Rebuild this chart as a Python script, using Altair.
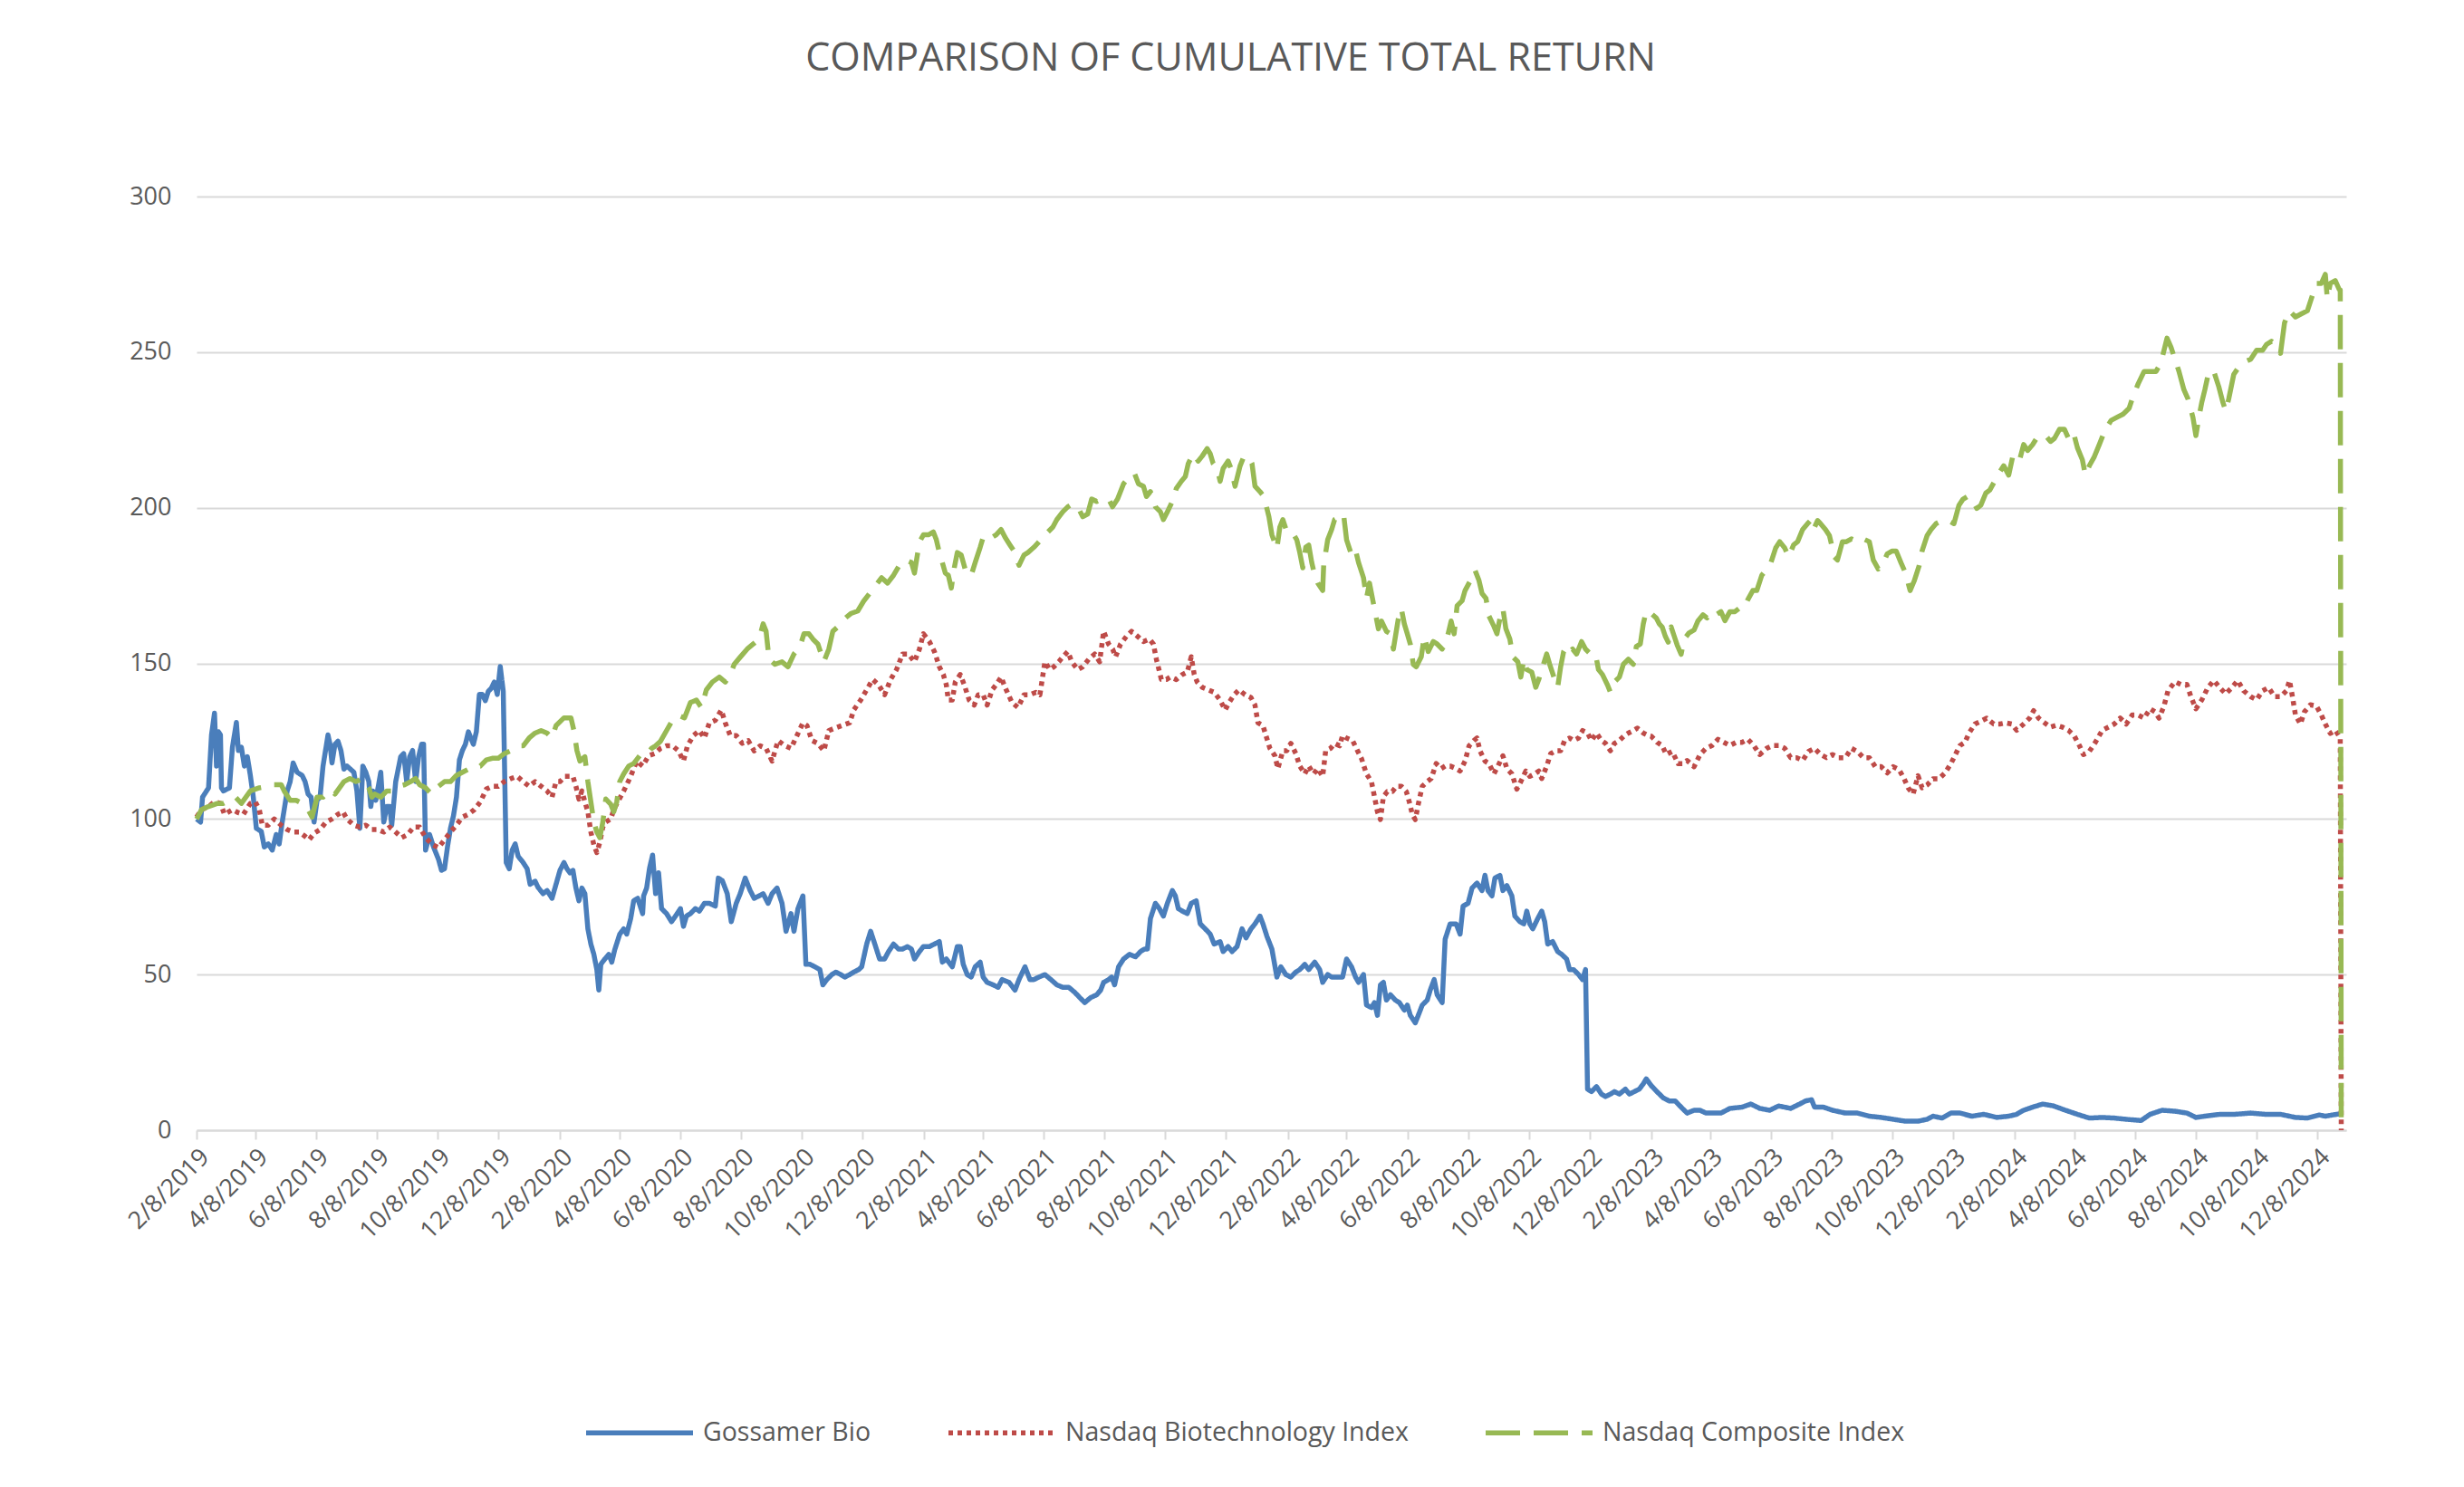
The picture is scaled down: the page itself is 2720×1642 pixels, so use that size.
import altair as alt
import pandas as pd

START = "2019-02-08"  # day 0 of the day offsets below

SERIES = ["Gossamer Bio", "Nasdaq Biotechnology Index", "Nasdaq Composite Index"]
COLORS = ["#4A7EBB", "#BE4B48", "#98B954"]
DASHES = [[1, 0], [5, 5], [38, 15]]

# [days since 2019-02-08, cumulative total return]
gossamer = [
    [0,100],[4,99],[6,107],[12,110],[15,127],[18,134],[20,117],[22,128],[24,127],[25,110],[27,109],[33,110],
    [36,123],[40,131],[42,122],[45,123],[48,117],[51,120],[54,114],[57,107],[60,97],[65,96],[68,91],[72,92],
    [76,90],[80,95],[83,92],[86,99],[91,109],[94,112],[97,118],[101,115],[106,114],[109,112],[112,108],[115,107],
    [118,99],[121,106],[124,107],[127,117],[132,127],[134,124],[136,118],[139,124],[142,125],[145,122],[148,116],
    [151,117],[158,115],[161,109],[164,97],[167,117],[170,115],[173,112],[175,104],[177,109],[180,106],[185,115],
    [188,99],[191,104],[194,104],[196,98],[200,112],[205,120],[208,121],[211,112],[214,120],[217,122],[220,112],
    [223,120],[226,124],[228,124],[230,90],[234,95],[238,91],[243,87],[246,83.5],[249,84],[252,91],[255,97],
    [258,101],[261,107],[264,119],[267,122],[270,124],[273,128],[278,124],[281,128],[284,140],[287,140],[290,138],
    [293,141],[296,142],[299,144],[302,140],[305,149],[308,141],[311,86],[314,84],[317,90],[320,92],[323,88],
    [328,86],[332,84],[335,79],[340,80],[343,78],[348,76],[352,77],[357,74.5],[361,79],
    [365,83.5],[369,86],[372,84],[375,82.7],[378,83.5],[381,77.8],[384,73.7],[387,77.8],[390,76],[393,64.7],
    [396,59.8],[399,56.5],[402,51.6],[404,45],[406,53.3],[410,55],[414,56.5],[417,54],[420,58],[425,63],
    [429,64.7],[432,63],[436,68],[439,73.7],[443,74.5],[448,69.6],[449,75.3],[452,77.8],[455,84.3],[458,88.4],
    [461,76],[464,82.7],[467,71.2],[472,69.6],[477,67],[481,68.8],[486,71.2],[489,65.5],[492,68.8],[496,69.6],
    [501,71.2],[505,70.4],[510,72.9],[515,72.9],[521,72],[524,81],[528,80.2],[533,76],[537,67],[542,72.9],
    [546,76],[551,81],[556,77],[560,74.5],[565,75.3],[569,76],[574,72.9],[578,76],[583,77.8],[588,72.9],
    [592,63.9],[597,69.6],[600,63.9],[604,71.2],[609,75.3],[612,53.3],[616,53.3],[621,52.5],[626,51.6],
    [629,46.7],[633,48.4],[638,50],[642,50.8],[647,50],[651,49.2],[656,50],[660,50.8],[665,51.6],[668,52.5],
    [673,59.8],[677,63.9],[682,59],[686,55],[691,55],[695,57.4],[700,59.8],[705,58.2],[709,58.2],[714,59],
    [718,58.2],[721,55],[726,57.4],[730,59],
    [736,59],[741,59.8],[746,60.6],[749,54],[753,55],[759,52.5],[764,59],[767,59],[770,53.3],[774,50],[778,49.2],
    [782,52.5],[787,54],[790,49.2],[794,47.5],[800,46.7],[805,45.9],[809,48.4],[816,47.5],[822,45],[826,48.4],
    [832,52.5],[837,48.4],[841,48.4],[846,49.2],[852,50],[858,48.4],[864,46.7],[870,45.9],[876,45.9],[882,44.3],
    [887,42.6],[892,41],[898,42.6],[904,43.5],[908,45],[911,47.5],[916,48.4],[919,49.2],[922,46.7],[926,52.5],
    [931,55],[937,56.5],[943,55.7],[948,57.4],[952,58.2],[955,58.2],[958,68],[963,72.9],[967,71.2],[971,68.8],
    [975,72.9],[980,77],[983,75.3],[986,71.2],[990,70.4],[995,69.6],[999,72.9],[1004,73.7],[1008,66.3],
    [1013,64.7],[1018,63],[1022,59.8],[1028,60.6],[1031,57.4],[1036,59],[1040,57.4],[1045,59],[1050,64.7],
    [1054,61.8],[1059,64.7],[1063,66.3],[1068,68.8],[1071,66.3],[1075,62.3],[1080,58.2],[1085,49.2],[1089,52.5],
    [1094,50],
    [1099,49.2],[1104,50.8],[1108,51.6],[1113,53.3],[1117,51.6],[1123,54],[1128,51.6],[1131,47.5],[1136,50],
    [1140,49.2],[1146,49.2],[1151,49.2],[1155,55],[1160,52.5],[1164,49.2],[1167,47.5],[1172,50],[1175,40.2],
    [1180,39.4],[1183,41],[1186,36.9],[1189,46.7],[1192,47.5],[1195,41.8],[1199,43.5],[1204,41.8],[1208,41],
    [1213,38.6],[1216,40.2],[1219,36.9],[1224,34.5],[1227,36.9],[1231,40.2],[1236,41.8],[1239,45],[1243,48.4],
    [1246,43.5],[1251,41],[1254,61.4],[1259,66.3],[1265,66.3],[1269,63],[1272,72],[1277,72.9],[1281,77.8],
    [1286,79.4],[1291,77],[1294,81.9],[1297,77],[1301,75.3],[1304,81],[1309,81.9],[1312,77],[1316,78.6],
    [1321,75.3],[1324,68.8],[1329,67],[1333,66.3],[1336,70.4],[1339,66.3],[1342,64.7],[1347,68],[1351,70.4],
    [1354,67],[1357,59.8],[1362,60.6],[1367,57.4],[1371,56.5],[1376,55],[1379,51.6],[1383,51.6],[1388,50],
    [1392,48.4],[1395,51.6],[1397,13.2],[1401,12.4],[1406,14],[1411,11.6],[1415,10.8],[1420,11.6],[1424,12.4],
    [1429,11.6],[1435,13.2],[1439,11.6],[1444,12.4],[1449,13.2],[1453,14.9],[1456,16.5],
    [1461,14.3],[1467,12.3],[1473,10.4],[1479,9.4],[1485,9.4],[1491,7.4],[1497,5.5],[1504,6.4],[1510,6.4],
    [1516,5.5],[1522,5.5],[1531,5.5],[1540,7],[1552,7.4],[1561,8.4],[1570,7],[1580,6.4],[1589,7.8],[1601,7],
    [1610,8.4],[1616,9.4],[1622,9.8],[1625,7.4],[1634,7.4],[1643,6.4],[1656,5.5],[1668,5.5],[1680,4.5],
    [1692,4.1],[1704,3.5],[1716,2.9],[1729,2.9],[1738,3.5],[1744,4.5],[1753,3.9],[1762,5.5],[1771,5.5],
    [1783,4.5],[1795,5.1],[1808,4.1],[1820,4.5],
    [1828,5.1],[1835,6.4],[1844,7.4],[1854,8.4],[1865,7.8],[1877,6.4],[1889,5.1],[1901,3.9],[1914,4.1],
    [1926,3.9],[1938,3.5],[1953,3.1],[1962,5.1],[1974,6.4],[1987,6.1],[1999,5.5],[2008,4.1],[2017,4.5],
    [2032,5.1],[2047,5.1],[2063,5.5],[2078,5.1],[2093,5.1],[2108,4.1],[2120,3.9],[2132,4.9],[2138,4.5],
    [2153,5.3],[2154,5.5],
]

nasdaq_biotech = [
    [0,100.6],[5,103],[12,104],[18,105.5],[24,105],[28,101.5],[36,103],[42,102],[47,101.5],[54,105],[59,105.5],
    [63,103],[66,98],[72,98],[78,100],[85,98],[91,96.6],[97,95.8],[103,95.8],[109,94.4],[113,93.3],[118,95.4],
    [124,96.6],[130,99],[136,100],[142,101.5],[147,102.3],[151,100],[158,98],[164,97.4],[170,98],[176,96.6],
    [182,96.6],[188,95.8],[194,97.4],[200,95.8],[206,94],[212,95],[218,97.4],[224,97.4],[230,94],[237,91.7],
    [243,90.8],[249,93.3],[255,95.8],[261,98],[267,100.6],[273,101.5],[279,103],[285,105.5],[291,109.6],
    [297,110.5],[303,110.5],[309,112],[316,113],[322,113.7],[328,112],[334,110.5],[340,112],[346,110.5],
    [352,109],[357,107],[361,112],
    [365,112],[370,113.7],[378,113.7],[381,110.5],[384,106.4],[387,109],[390,105.5],[393,102.3],[396,95.8],
    [399,91.7],[402,89.2],[405,92.5],[408,97.4],[411,99],[416,100],[419,103],[423,105.5],[429,109],[436,113.7],
    [442,118.6],[448,117],[454,120.3],[460,121],[466,122.7],[472,123.5],[478,123.5],[484,121.9],[489,118.6],
    [493,123.5],[499,126.8],[505,128.4],[510,126],[515,130.9],[521,131.7],[527,135],[531,130.9],[536,126.8],
    [542,126.8],[548,124.3],[554,125.2],[560,121.9],[566,123.5],[572,122.7],[578,118.6],[584,125.2],
    [591,123.5],[597,122.7],[603,126.8],[609,130.9],[613,130],[618,125.2],[624,124.3],[630,121.9],[635,128.4],
    [641,129.2],[648,130],[656,130.9],[660,135],[667,138.2],[673,141.5],[679,144.8],[685,143.1],[691,139.9],
    [697,144.8],[703,148],[709,153],[715,153],[721,150.5],[726,154.6],[730,159.5],
    [736,157],[741,153.8],[746,148.9],[750,146.4],[753,143.1],[755,138.2],[759,138.2],[762,144],[767,146.4],
    [771,143.1],[776,138.2],[781,136.6],[785,139.9],[790,139.9],[794,136.6],[799,141.5],[803,143.1],
    [808,145.6],[812,142.3],[819,137.4],[825,135.8],[831,139.9],[837,139.9],[843,140.7],[847,139.9],
    [852,150.5],[857,148],[861,148.9],[866,150.5],[870,152.1],[875,153.8],[879,150.5],[885,148],[890,148.9],
    [896,151.3],[902,153],[907,150.5],[911,160.3],[916,156.2],[920,154.6],[923,152.1],[928,156.2],[934,158.7],
    [939,160.3],[945,158.7],[951,157],[957,157.8],[961,156.2],[964,151.3],[969,144.8],[974,144.8],[978,145.6],
    [984,144.8],[990,146.4],[995,147.2],[999,152.1],[1002,146.4],[1005,144],[1010,142.3],[1016,141.5],
    [1022,140.7],[1028,138.2],[1033,135],[1037,137.4],[1042,139.9],[1047,141.5],[1053,139.9],[1059,139],
    [1063,136.6],[1066,130.9],[1071,130],[1074,126.8],[1078,122.7],[1083,120.3],[1086,116.2],[1091,121.9],
    [1095,121.9],
    [1099,124.3],[1104,121],[1108,117],[1113,114.5],[1117,117],[1122,114.5],[1126,116.2],[1131,113.7],
    [1134,121.9],[1139,122.7],[1143,124.3],[1148,123.5],[1151,126.8],[1155,126],[1161,125.2],[1166,121.9],
    [1170,119.4],[1175,114.5],[1180,112],[1183,107.2],[1186,102.3],[1189,99.8],[1192,107.2],[1196,108.8],
    [1201,108.8],[1205,110.5],[1210,110.5],[1215,108.8],[1218,105.5],[1221,101.5],[1224,99.8],[1227,104.7],
    [1231,110.5],[1236,112],[1240,113],[1245,117.8],[1250,116.2],[1254,117],[1259,117],[1265,116.2],
    [1269,115.4],[1274,118.6],[1278,123.5],[1283,125.2],[1286,126],[1289,121.9],[1294,118.6],[1298,117.8],
    [1303,114.5],[1307,117],[1312,120.3],[1316,116.2],[1321,114.5],[1326,109.6],[1330,112],[1335,115.4],
    [1339,113.7],[1344,114.5],[1348,115.4],[1351,113],[1356,117],[1360,121],[1365,121.9],[1370,121.9],
    [1374,125.2],[1379,126],[1383,125.2],[1388,126],[1392,128.4],[1397,127.6],[1401,125.2],[1406,127.6],
    [1411,125.2],[1415,124.3],[1420,121.9],[1424,124.3],[1429,125.2],[1434,126.8],[1438,127.6],[1443,128.4],
    [1447,129.2],[1453,127.6],[1458,126.8],
    [1461,126.6],[1467,124.6],[1472,123.6],[1476,120.7],[1482,121.7],[1488,117.8],[1493,117.8],[1497,118.8],
    [1504,116.8],[1510,120.7],[1516,122.7],[1522,123.6],[1528,125.6],[1534,124.6],[1540,123.6],[1546,124.6],
    [1552,124.6],[1558,125.6],[1564,123.6],[1570,120.7],[1577,122.7],[1583,123.6],[1589,123.6],[1595,122.7],
    [1601,119.7],[1607,119.7],[1613,118.8],[1619,121.7],[1625,122.7],[1631,120.7],[1637,119.7],[1643,120.7],
    [1649,119.7],[1656,119.7],[1662,122.7],[1668,121.7],[1674,119.7],[1680,119.7],[1686,116.8],[1692,116.8],
    [1698,114.8],[1704,116.8],[1710,115.8],[1715,112.9],[1719,110],[1724,108],[1729,113.9],[1733,110],
    [1738,110.9],[1744,112.9],[1750,112.9],[1756,114.8],[1762,117.8],[1768,121.7],[1771,123.6],[1776,124.6],
    [1780,127.5],[1786,130.5],[1792,131.4],[1798,132.4],[1805,130.5],[1811,130.5],[1817,130.9],[1823,130.5],
    [1828,128.5],[1835,130.5],[1841,132.4],[1845,134.8],[1850,132.4],[1856,130.9],[1862,129.5],[1868,130.1],
    [1874,129.5],[1880,128.5],[1886,126.6],[1891,123.6],[1895,120.7],[1901,121.7],[1907,124.6],[1914,128.5],
    [1920,129.5],[1926,130.5],[1932,132.4],[1938,130.5],[1944,133.4],[1950,133.4],[1956,132.4],[1962,135.4],
    [1967,134.4],[1971,132.4],[1976,136.3],[1980,141.2],[1987,144.1],[1993,143.2],[1999,143.2],[2003,139.3],
    [2008,135.4],[2014,138.3],[2020,142.2],[2026,144.5],[2032,142.2],[2038,140.2],[2044,142.2],[2050,144.5],
    [2056,141.2],[2063,139.3],[2069,138.3],[2075,141.2],[2081,142.2],[2087,139.3],[2093,139.3],[2099,141.2],
    [2102,144.5],[2105,139.3],[2108,133.4],[2113,130.5],[2117,134.4],[2123,136.7],[2129,136.3],[2134,133.4],
    [2138,130.5],[2143,127.5],[2148,128.5],[2152,126.6],[2153,126],[2154,0],
]

nasdaq_composite = [
    [0,100],[5,103],[12,104],[21,105],[27,105],[33,106],[39,107],[45,105],[54,109],[63,110],[72,110.5],[75,111],
    [85,111],[88,109],[94,106],[100,106],[106,105],[112,103],[116,100.6],[121,107],[127,107],[133,109],[136,109],
    [139,108],[148,112],[154,113],[160,112],[167,113],[173,110],[176,107],[179,108],[185,107],[191,109],[197,109],
    [203,110.5],[209,111],[215,112],[220,113],[224,111],[230,110],[236,108],[243,110.5],[249,112],[255,112],
    [261,114],[267,115],[273,116],[279,117],[285,117],[291,119],[297,119.5],[303,119.5],[309,121],[316,122],
    [322,123.5],[328,123.5],[334,126],[340,127.6],[346,128.4],[352,127.6],[357,126],[361,130],
    [369,132.5],[376,132.5],[379,128.4],[382,122],[385,118.6],[390,120],[393,112],[396,105.5],[399,99],
    [402,95.8],[405,94],[408,99],[411,106.4],[416,104.7],[419,102.3],[422,105.5],[425,112],[429,114.5],[434,117],
    [439,117.8],[445,120.3],[451,120.3],[457,122.7],[461,123.5],[466,125],[472,128.4],[478,131.7],[484,133.3],
    [490,132.5],[496,137.4],[502,138.2],[507,135.8],[512,141.5],[518,144],[525,145.6],[531,144],[536,146.4],
    [540,149.7],[546,152],[553,154.6],[559,156.2],[565,157.8],[569,162.7],[572,160.3],[575,151.3],[581,149.7],
    [588,150.5],[594,148.9],[600,153],[606,155.4],[610,159.5],[615,159.5],[619,157.8],[624,156.2],[630,150.5],
    [635,154.6],[639,160.3],[645,162],[651,164.4],[657,166],[664,166.8],[670,170],[676,172.5],[680,174.2],
    [688,177.5],[694,175.8],[700,178.3],[706,181.6],[712,183.2],[718,182.4],[721,179],[726,189],[730,191.3],
    [735,191.3],[740,192.2],[743,189.7],[746,185.6],[749,182.4],[752,179],[755,178.3],[758,174.2],[761,180.7],
    [764,185.6],[768,184.8],[773,179],[778,178.3],[782,182.4],[787,187.3],[790,190.5],[794,191.3],[799,190.5],
    [803,191.3],[808,193],[812,190.5],[817,188],[822,185.6],[826,181.5],[831,184.8],[835,185.6],[841,187.3],
    [846,189],[850,190.5],[855,192.2],[860,193.8],[864,196.2],[870,198.7],[875,200.3],[879,201.1],[885,200.3],
    [890,197.1],[895,198],[899,202.8],[904,202],[910,202.8],[916,202.8],[920,200.3],[925,202.8],[931,207.7],
    [937,210],[942,211],[946,207.7],[951,206.9],[954,203.6],[958,205.2],[963,200.3],[968,198.7],[971,196.2],
    [975,198.7],[980,202],[984,206.2],[989,208.5],[993,210],[996,214.2],[1001,217.4],[1006,215],[1010,216.6],
    [1015,219],[1018,217.4],[1021,214.2],[1025,212.6],[1028,208.5],[1031,212.6],[1036,215],[1039,212.6],
    [1043,206.9],[1048,213.4],[1051,215.8],[1056,216.6],[1060,214.2],[1063,206.9],[1068,205.2],[1072,203.6],
    [1077,197.1],[1080,191.3],[1085,186.8],[1088,193.8],[1091,196.2],[1095,192.2],
    [1099,192.2],[1102,191.3],[1105,189.7],[1108,185.6],[1111,180.7],[1114,187.3],[1117,188],[1120,182.4],
    [1123,178.3],[1126,175.8],[1131,173.4],[1132,181.5],[1136,189.7],[1140,193],[1143,196.2],[1148,197.1],
    [1152,197.9],[1155,189.7],[1160,184.8],[1164,186.4],[1167,182.4],[1172,177.5],[1175,171],[1178,175.8],
    [1183,167.6],[1187,161.1],[1190,163.6],[1195,160.3],[1199,159.5],[1202,154.6],[1207,164.4],[1210,167.6],
    [1213,162.7],[1216,159.5],[1219,156.2],[1222,149.7],[1225,148.9],[1230,152.1],[1233,158.7],[1237,153.8],
    [1242,157],[1246,156.2],[1251,154.6],[1254,156.2],[1257,159.5],[1260,163.6],[1263,159.5],[1266,168.5],
    [1271,170.1],[1274,173.4],[1278,175.8],[1281,177.5],[1284,179.9],[1288,176.6],[1291,172.5],[1295,170.9],
    [1298,165.2],[1303,161.9],[1306,159.5],[1309,164.4],[1312,167.6],[1315,161.1],[1319,157.8],[1322,152.1],
    [1327,150.5],[1330,145.6],[1333,151.3],[1336,148],[1341,147.2],[1345,142.3],[1348,144.8],[1351,148],
    [1356,153],[1359,149.7],[1364,144.8],[1367,142.3],[1370,148.9],[1373,153.8],[1376,155.4],[1379,153.8],
    [1382,154.6],[1386,153],[1391,157],[1395,154.6],[1400,153],[1405,153],[1408,148],[1412,146.4],[1417,143.1],
    [1420,140.7],[1424,144],[1429,145.6],[1433,149.7],[1438,151.3],[1443,149.7],[1446,155.4],[1450,156.2],
    [1453,162.7],[1456,166.8],
    [1461,166],[1466,164.6],[1469,162.7],[1472,161.7],[1475,158.8],[1478,156.8],[1481,161.7],[1484,158.8],
    [1487,155.9],[1491,152.9],[1494,157.8],[1499,159.8],[1504,160.7],[1508,163.7],[1513,165.6],[1517,164.6],
    [1522,166.6],[1526,165.6],[1531,166.6],[1535,163.7],[1540,166.6],[1545,166.6],[1549,167.6],[1554,167.6],
    [1558,170.5],[1563,173.4],[1567,173.4],[1572,178.3],[1577,180.3],[1581,182.2],[1586,187.1],[1590,189.1],
    [1595,187.1],[1599,184.2],[1604,188.1],[1608,189.1],[1613,193],[1618,194.9],[1621,195.9],[1624,193],
    [1628,195.9],[1631,194.9],[1636,193],[1640,191],[1645,184.2],[1648,183.2],[1653,189.1],[1657,189.1],
    [1662,190],[1668,189.1],[1674,190],[1680,189.1],[1684,183.2],[1689,180.3],[1694,182.2],[1698,185.2],
    [1703,186.1],[1707,186.1],[1712,182.2],[1716,179.3],[1721,173.4],[1725,176.4],[1730,181.3],[1733,186.1],
    [1738,191],[1742,193],[1747,194.9],[1753,195.9],[1759,195.9],[1765,194.9],[1770,200.8],[1774,202.7],
    [1779,203.7],[1783,202.7],[1788,199.8],[1792,200.8],[1797,204.7],[1801,205.7],[1806,208.6],[1811,211.5],
    [1815,213.5],[1820,210.5],[1824,216.4],
    [1828,217],[1831,215.4],[1835,220.3],[1839,218.4],[1844,220.3],[1848,222.3],[1853,222.3],[1857,223.2],
    [1862,221.3],[1866,222.3],[1871,225.2],[1876,225.2],[1880,222.3],[1885,224.2],[1889,219.3],[1894,215.4],
    [1897,210.5],[1901,213.5],[1906,216.4],[1911,220.3],[1917,225.2],[1923,228.1],[1929,229.1],[1935,230.1],
    [1941,232],[1945,235.9],[1950,239.8],[1956,243.8],[1962,243.8],[1968,243.8],[1973,246.7],[1979,254.5],
    [1983,251.6],[1987,247.7],[1991,243.8],[1996,237.9],[2000,235],[2005,229.1],[2008,223.2],[2011,229.1],
    [2014,234],[2017,237.9],[2021,243.8],[2026,243.8],[2031,238.9],[2035,234],[2038,231.1],[2041,235],
    [2046,242.8],[2050,244.7],[2056,246.7],[2063,247.7],[2069,250.6],[2075,250.6],[2079,252.5],[2084,253.5],
    [2088,252.5],[2093,249.6],[2097,259.4],[2102,263.3],[2108,261.3],[2114,262.3],[2120,263.3],[2125,268.2],
    [2129,272.1],[2134,272.1],[2138,275],[2140,267.2],[2143,272.1],[2148,273],[2152,270.1],[2153,270],[2154,0],
]

TICK_MONTHS = [(y, m) for y in range(2019, 2025) for m in (2, 4, 6, 8, 10, 12)]
Y_TICKS = [0, 50, 100, 150, 200, 250, 300]

start = pd.Timestamp(START)
rows = []
for name, pts in zip(SERIES, [gossamer, nasdaq_biotech, nasdaq_composite]):
    for d, v in pts:
        rows.append({
            "date": (start + pd.Timedelta(days=d)).strftime("%Y-%m-%dT00:00:00"),
            "value": v,
            "series": name,
        })
df = pd.DataFrame(rows)

FONT = "Open Sans"
TEXT = "#595959"
GRID = "#d9d9d9"

tick_values = [alt.DateTime(year=y, month=m, date=8) for y, m in TICK_MONTHS]

SYMBOL_LEN = 118
legend_cfg = dict(
    title=None, orient="none", legendX=427, legendY=1362 - SYMBOL_LEN // 2,
    direction="horizontal",
    symbolType="stroke", symbolSize=SYMBOL_LEN * SYMBOL_LEN, symbolStrokeWidth=5.5,
    labelFont=FONT, labelFontSize=28.5, labelColor=TEXT, labelOffset=8, labelLimit=900,
    columnPadding=74, padding=0,
)

chart = alt.Chart(df).mark_line(strokeWidth=5.5, strokeJoin="round").encode(
    x=alt.X(
        "date:T",
        scale=alt.Scale(domain=[alt.DateTime(year=2019, month=2, date=8),
                                alt.DateTime(year=2025, month=1, date=6)]),
        axis=alt.Axis(
            values=tick_values, format="%-m/%-d/%Y", labelAngle=-45, title=None, grid=False,
            domainColor=GRID, domainWidth=2, tickColor=GRID, tickWidth=2, tickSize=10,
            labelFont=FONT, labelFontSize=27, labelColor=TEXT, labelPadding=6,
            labelOverlap=False,
        ),
    ),
    y=alt.Y(
        "value:Q",
        scale=alt.Scale(domain=[0, 300], nice=False),
        axis=alt.Axis(
            values=Y_TICKS, title=None, domain=False, ticks=False,
            gridColor=GRID, gridWidth=2, labelFont=FONT, labelFontSize=27,
            labelColor=TEXT, labelPadding=28,
        ),
    ),
    color=alt.Color("series:N", scale=alt.Scale(domain=SERIES, range=COLORS),
                    legend=alt.Legend(**legend_cfg)),
    strokeDash=alt.StrokeDash("series:N", scale=alt.Scale(domain=SERIES, range=DASHES),
                              legend=alt.Legend(**legend_cfg)),
).properties(
    width=2373,
    height=1031,
    title=alt.TitleParams(
        "COMPARISON OF CUMULATIVE TOTAL RETURN", font=FONT, fontSize=43,
        fontWeight="normal", color=TEXT, anchor="middle", frame="group",
        offset=116, dx=-45,
    ),
    padding={"left": 209, "top": 209, "right": 120, "bottom": 370},
    autosize=alt.AutoSizeParams(type="none"),
    background="white",
).configure_view(stroke=None)

chart.save("out.html", embed_options={"renderer": "svg", "actions": False})
